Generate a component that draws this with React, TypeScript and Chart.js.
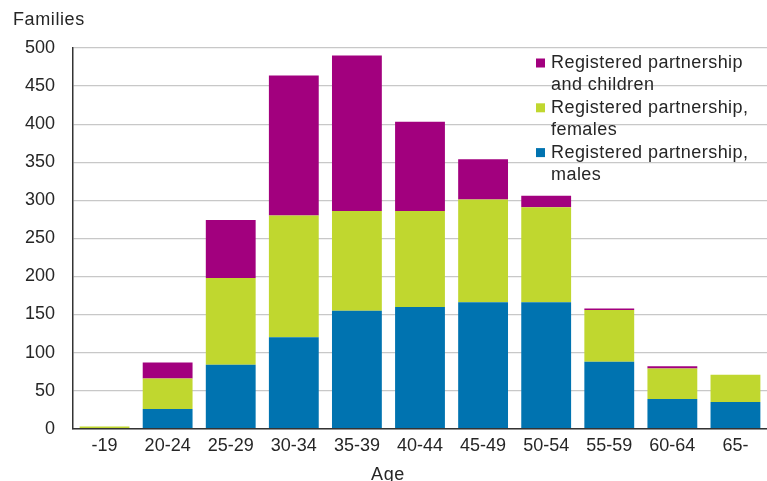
import React, { useEffect, useRef } from "react";
import { Chart, registerables } from "chart.js";

Chart.register(...registerables);

const categories = ["-19", "20-24", "25-29", "30-34", "35-39", "40-44", "45-49", "50-54", "55-59", "60-64", "65-"];
const males = [0, 26, 84, 120, 155, 160, 166, 166, 88, 39, 35];
const females = [3, 40, 114, 160, 131, 126, 135, 125, 68, 40, 36];
const withChildren = [0, 21, 76, 184, 204, 117, 53, 15, 2, 3, 0];
const yTicks = [0, 50, 100, 150, 200, 250, 300, 350, 400, 450, 500];

const legendItems = [
  { lines: ["Registered partnership", "and children"], color: "#a2007e" },
  { lines: ["Registered partnership,", "females"], color: "#c0d72f" },
  { lines: ["Registered partnership,", "males"], color: "#0073b0" },
];

const FONT = "'Liberation Sans', Arial, sans-serif";

export default function App() {
  const ref = useRef<HTMLCanvasElement | null>(null);

  useEffect(() => {
    document.body.style.margin = "0";
    const canvas = ref.current;
    if (!canvas) return;

    const overlay = {
      id: "overlay",
      afterDraw(chart: any) {
        const ctx = chart.ctx;
        const area = chart.chartArea;
        ctx.save();
        ctx.fillStyle = "#262626";
        ctx.font = `18px ${FONT}`;
        ctx.textBaseline = "middle";
        ctx.textAlign = "left";
        (ctx as any).letterSpacing = "0.6px";
        ctx.fillText("Families", 13, 20);
        ctx.textAlign = "center";
        ctx.fillText("Age", area.left + 315, 475);
        // legend
        ctx.textAlign = "left";
        (ctx as any).letterSpacing = "0.45px";
        let y = 63;
        for (const item of legendItems) {
          ctx.fillStyle = item.color;
          ctx.fillRect(536, y - 4.5, 9, 9);
          ctx.fillStyle = "#262626";
          item.lines.forEach((ln, i) => {
            ctx.fillText(ln, 551, y + i * 22.4);
          });
          y += 44.8;
        }
        ctx.restore();
      },
    };

    const chart = new Chart(canvas, {
      type: "bar",
      data: {
        labels: categories,
        datasets: [
          { label: "Registered partnership, males", data: males, backgroundColor: legendItems[2].color },
          { label: "Registered partnership, females", data: females, backgroundColor: legendItems[1].color },
          { label: "Registered partnership and children", data: withChildren, backgroundColor: legendItems[0].color },
        ],
      },
      options: {
        animation: false,
        responsive: false,
        maintainAspectRatio: false,
        layout: { padding: { top: 48, left: 0, right: 0, bottom: 0 } },
        datasets: { bar: { barPercentage: 0.79, categoryPercentage: 1 } },
        plugins: {
          legend: { display: false },
          title: { display: false },
          tooltip: { enabled: false },
        },
        scales: {
          x: {
            stacked: true,
            grid: { display: false, drawTicks: false },
            border: { color: "#333333", width: 1.5 },
            ticks: { color: "#262626", font: { family: FONT, size: 18 }, padding: 7, maxRotation: 0, autoSkip: false },
            afterFit(scale: any) {
              scale.height = 52.3;
            },
          },
          y: {
            stacked: true,
            min: 0,
            max: 500,
            afterBuildTicks(scale: any) {
              scale.ticks = yTicks.map((v) => ({ value: v }));
            },
            grid: { color: "#c8c8c8", lineWidth: 1.2, drawTicks: false },
            border: { color: "#333333", width: 1.5 },
            ticks: { color: "#262626", font: { family: FONT, size: 18 }, padding: 18 },
            afterFit(scale: any) {
              scale.width = 73;
            },
          },
        },
      },
      plugins: [overlay],
    });

    return () => chart.destroy();
  }, []);

  return <canvas ref={ref} width={767} height={481} style={{ display: "block" }} />;
}
